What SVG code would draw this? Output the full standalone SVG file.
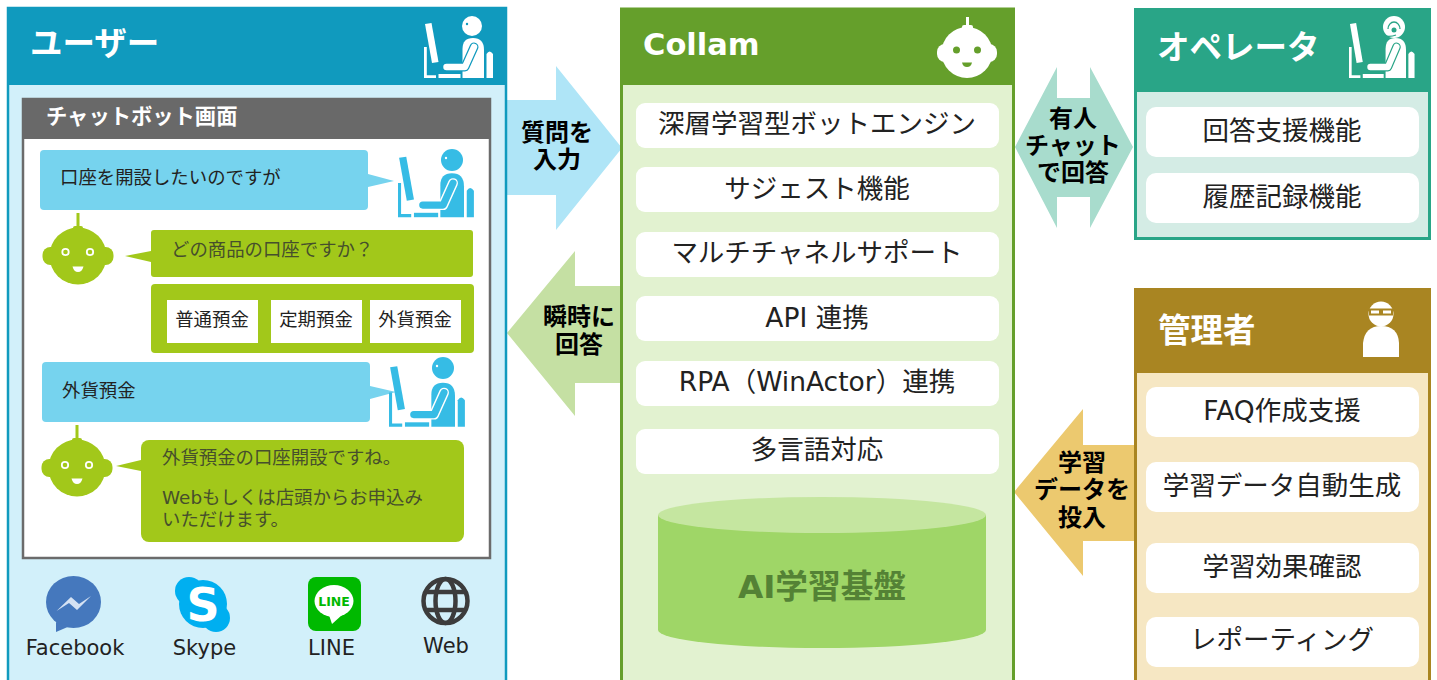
<svg xmlns="http://www.w3.org/2000/svg" width="1437" height="680" viewBox="0 0 1437 680">
<style>
text{font-family:"DejaVu Sans","Noto Sans CJK JP",sans-serif;text-anchor:middle;fill:#111}
.l{text-anchor:start}
.h{font-weight:700;font-size:32.500px;fill:#fff}
.row{font-size:26.500px;fill:#222}
.a{font-weight:700;font-size:24px;fill:#000}
.chat{font-size:18.400px;fill:#222}
.bot{font-size:18.400px;fill:#464f2c}
.ic{font-size:21px;fill:#222}
.w{fill:#fff}
</style>
<defs>
<g id="person">
<path d="M1 8L7.500 7L14.500 46L8 47Z" fill="currentColor"/>
<path d="M0 31H2.800V59.200H12V62H0Z" fill="currentColor"/>
<rect x="14.500" y="58" width="22" height="4" fill="currentColor"/>
<path d="M38.500 62V33Q38.500 22 49 22Q60 22 60 34V62Z" fill="currentColor"/>
<path d="M22.500 51H41L50 31" fill="none" stroke="var(--bg)" stroke-width="9" stroke-linecap="round" stroke-linejoin="round"/>
<path d="M22.500 51H41L50 31" fill="none" stroke="currentColor" stroke-width="6.500" stroke-linecap="round" stroke-linejoin="round"/>
<path d="M62.500 62V38Q65.500 33 69 38V62Z" fill="currentColor"/>
</g>
<g id="robot">
<rect x="-1.500" y="-43" width="3" height="16" fill="currentColor"/>
<rect x="-5" y="-30" width="10" height="5" rx="2" fill="currentColor"/>
<rect x="-35.500" y="-9" width="71" height="18" rx="8" fill="currentColor"/>
<circle r="28.500" fill="currentColor"/>
<path d="M-5.500 10.500H5.500Q4 16 0 16Q-4 16 -5.500 10.500Z" fill="var(--fg)"/>
</g>
</defs>

<g id="connectors">
<path id="arrow-input" d="M507 100H556V66L622 148L556 230V195H507Z" fill="#afe5f7"/>
<path id="arrow-output" d="M620 286H575V251L507 333L575 416V383H620Z" fill="#c5e0a3"/>
<path id="arrow-chat" d="M1015 147L1057 67V98H1090V67L1133 147L1090 228V197H1057V228Z" fill="#a8dccd"/>
<path id="arrow-train" d="M1134 445H1083V409L1014 492L1083 576V541H1134Z" fill="#ecc96f"/>
<text class="a" x="557" y="141">質問を</text>
<text class="a" x="557" y="168">入力</text>
<text class="a" x="579" y="325">瞬時に</text>
<text class="a" x="579" y="353">回答</text>
<text class="a" x="1073" y="127">有人</text>
<text class="a" x="1073" y="154">チャット</text>
<text class="a" x="1073" y="181">で回答</text>
<text class="a" x="1082" y="471">学習</text>
<text class="a" x="1082" y="498">データを</text>
<text class="a" x="1082" y="526">投入</text>
</g>

<g id="user">
<rect x="8" y="8" width="498" height="690" fill="#d2f0fa" stroke="#109abe" stroke-width="2.500"/>
<rect x="7" y="7" width="500" height="78" fill="#109abe"/>
<text class="h l" x="30" y="55">ユーザー</text>
<use href="#person" x="424" y="16" style="color:#fff;--bg:#109abe"/>
<circle cx="472" cy="26" r="10" fill="#fff"/>
<circle cx="467" cy="24" r="1.200" fill="#109abe"/>
</g>

<g id="chat-window">
<rect x="23" y="99" width="467" height="459" fill="#fff" stroke="#6b6b6b" stroke-width="2.500"/>
<rect x="22" y="98" width="469" height="41" fill="#696969"/>
<text class="l" x="46" y="124" font-size="21.300" font-weight="700" style="fill:#fff">チャットボット画面</text>
</g>

<g id="msg-user-1">
<rect x="40" y="150" width="328" height="60" rx="4" fill="#76d3ee"/>
<path d="M368 174L394 181L368 187Z" fill="#76d3ee"/>
<text class="chat l" x="60" y="184">口座を開設したいのですが</text>
<g transform="translate(398,149) scale(1.100)" style="color:#36bce5;--bg:#fff"><use href="#person"/></g>
<circle cx="452" cy="160" r="11" fill="#36bce5"/>
<circle cx="446" cy="158" r="1.200" fill="#fff"/>
</g>

<g id="msg-bot-1" style="color:#a2c81a;--fg:#fff">
<use href="#robot" x="78" y="256"/>
<circle cx="65.500" cy="252" r="3.200" fill="none" stroke="#fff" stroke-width="1.800"/>
<circle cx="90" cy="252" r="3.200" fill="none" stroke="#fff" stroke-width="1.800"/>
<rect x="151" y="230" width="322" height="47" rx="3" fill="#a2c81a"/>
<path d="M125 256L151 251V262Z" fill="#a2c81a"/>
<text class="bot l" x="171" y="256">どの商品の口座ですか？</text>
</g>

<g id="options">
<rect x="151" y="284" width="323" height="69" rx="4" fill="#a2c81a"/>
<rect x="167" y="300" width="91" height="43" fill="#fff"/>
<rect x="271" y="300" width="91" height="43" fill="#fff"/>
<rect x="370" y="300" width="91" height="43" fill="#fff"/>
<text class="chat" x="212" y="326">普通預金</text>
<text class="chat" x="316" y="326">定期預金</text>
<text class="chat" x="415" y="326">外貨預金</text>
</g>

<g id="msg-user-2">
<rect x="42" y="362" width="328" height="60" rx="4" fill="#76d3ee"/>
<path d="M370 386L396 392L370 399Z" fill="#76d3ee"/>
<text class="chat l" x="62" y="397">外貨預金</text>
<g transform="translate(389,358.500) scale(1.100)" style="color:#36bce5;--bg:#fff"><use href="#person"/></g>
<circle cx="443" cy="368" r="11" fill="#36bce5"/>
<circle cx="437" cy="366" r="1.200" fill="#fff"/>
</g>

<g id="msg-bot-2" style="color:#a2c81a;--fg:#fff">
<use href="#robot" x="77" y="468"/>
<circle cx="65" cy="465" r="3.200" fill="none" stroke="#fff" stroke-width="1.800"/>
<circle cx="89" cy="465" r="3.200" fill="none" stroke="#fff" stroke-width="1.800"/>
<rect x="141" y="440" width="323" height="102" rx="8" fill="#a2c81a"/>
<path d="M116 466L141 460V471Z" fill="#a2c81a"/>
<text class="bot l" x="162" y="464">外貨預金の口座開設ですね。</text>
<text class="bot l" x="162" y="504">Webもしくは店頭からお申込み</text>
<text class="bot l" x="162" y="526">いただけます。</text>
</g>

<g id="facebook">
<ellipse cx="73.500" cy="602" rx="27.500" ry="26" fill="#4578bd"/>
<path d="M56 622V632L70 626Z" fill="#4578bd"/>
<path d="M56.500 611L71 597L79 604L91 596L77 610L69 603Z" fill="#d5e2f3"/>
<text class="ic" x="75" y="655">Facebook</text>
</g>
<g id="skype">
<circle cx="203" cy="604" r="24" fill="#00aff0"/>
<circle cx="189" cy="591" r="14" fill="#00aff0"/>
<circle cx="216" cy="618" r="14" fill="#00aff0"/>
<text x="203" y="621" font-size="46" font-weight="700" style="fill:#fff">S</text>
<text class="ic" x="204.500" y="655">Skype</text>
</g>
<g id="line">
<rect x="308" y="577" width="53" height="54" rx="8" fill="#00b900"/>
<ellipse cx="334" cy="601" rx="19.500" ry="16" fill="#fff"/>
<path d="M329 615L332 624L342 615Z" fill="#fff"/>
<text x="334" y="606" font-size="12.500" font-weight="700" style="fill:#00b900">LINE</text>
<text class="ic" x="331.500" y="655">LINE</text>
</g>
<g id="web" fill="none" stroke="#3c3c3c" stroke-width="4.500">
<circle cx="445.500" cy="601" r="22"/>
<ellipse cx="445.500" cy="601" rx="10" ry="22"/>
<path d="M427 592H464M427 610H464"/>
<text class="ic" x="446" y="653" style="stroke:none">Web</text>
</g>

<g id="collam">
<rect x="621.500" y="9" width="392" height="690" fill="#e2f2d0" stroke="#659f2b" stroke-width="3"/>
<rect x="620" y="8" width="395" height="77" fill="#659f2b"/>
<text class="h l" x="643" y="55" style="font-size:30.500px">Collam</text>
<g id="collam-robot">
<rect x="966" y="17" width="3" height="12" fill="#fff"/>
<rect x="962" y="25" width="11" height="5" rx="2" fill="#fff"/>
<rect x="937" y="44" width="60" height="18" rx="8" fill="#fff"/>
<circle cx="967" cy="52.500" r="25.500" fill="#fff"/>
<path d="M962 62.500H972Q971 67 967 67Q963 67 962 62.500Z" fill="#659f2b"/>
<circle cx="956.500" cy="50" r="3.500" fill="#659f2b"/>
<circle cx="977.500" cy="50" r="3.500" fill="#659f2b"/>
</g>
<g class="w">
<rect x="636" y="103" width="363" height="45" rx="9"/>
<rect x="636" y="167" width="363" height="45" rx="9"/>
<rect x="636" y="232" width="363" height="45" rx="9"/>
<rect x="636" y="296" width="363" height="45" rx="9"/>
<rect x="636" y="361" width="363" height="45" rx="9"/>
<rect x="636" y="429" width="363" height="45" rx="9"/>
</g>
<text class="row" x="817" y="133">深層学習型ボットエンジン</text>
<text class="row" x="817" y="198">サジェスト機能</text>
<text class="row" x="817" y="262">マルチチャネルサポート</text>
<text class="row" x="817" y="327">API 連携</text>
<text class="row" x="817" y="391">RPA（WinActor）連携</text>
<text class="row" x="817" y="459">多言語対応</text>
<path d="M658 515V630A164 18 0 0 0 986 630V515Z" fill="#9fd667"/>
<ellipse cx="822" cy="515" rx="164" ry="18" fill="#c5e6a0"/>
<text x="822" y="598" font-size="32.700" font-weight="700" style="fill:#548235">AI学習基盤</text>
</g>

<g id="operator">
<rect x="1135.500" y="9.500" width="294" height="229" fill="#d4ece5" stroke="#29a587" stroke-width="3"/>
<rect x="1134" y="8" width="297" height="84" fill="#29a587"/>
<text class="h l" x="1157" y="59">オペレータ</text>
<g transform="translate(1349,16) scale(.95,1)" style="color:#fff;--bg:#29a587"><use href="#person"/></g>
<circle cx="1394" cy="27" r="11" fill="#fff"/>
<path d="M1388 29A6 7 0 0 1 1400 29M1396 35Q1391 37 1385 36" fill="none" stroke="#29a587" stroke-width="1.300"/>
<circle cx="1394" cy="30" r="2.500" fill="#29a587"/>
<g class="w">
<rect x="1146" y="107" width="273" height="50" rx="10"/>
<rect x="1146" y="173" width="273" height="50" rx="10"/>
</g>
<text class="row" x="1282" y="140">回答支援機能</text>
<text class="row" x="1282" y="206">履歴記録機能</text>
</g>

<g id="admin">
<rect x="1135.500" y="289.500" width="294" height="410" fill="#f6e7c3" stroke="#a98522" stroke-width="3"/>
<rect x="1134" y="288" width="297" height="85" fill="#a98522"/>
<text class="h l" x="1158" y="342">管理者</text>
<circle cx="1381" cy="314" r="12.500" fill="#fff"/>
<path d="M1363 357V343Q1365 326 1381 326Q1398 326 1399 343V357Z" fill="#fff"/>
<rect x="1369" y="308.500" width="24" height="7" fill="#a98522"/>
<rect x="1371" y="310.500" width="8" height="3" fill="#fff"/>
<rect x="1383" y="310.500" width="8" height="3" fill="#fff"/>
<g class="w">
<rect x="1146" y="387" width="273" height="50" rx="10"/>
<rect x="1146" y="462" width="273" height="50" rx="10"/>
<rect x="1146" y="543" width="273" height="50" rx="10"/>
<rect x="1146" y="617" width="273" height="50" rx="10"/>
</g>
<text class="row" x="1282" y="420">FAQ作成支援</text>
<text class="row" x="1282" y="495">学習データ自動生成</text>
<text class="row" x="1282" y="576">学習効果確認</text>
<text class="row" x="1282" y="649">レポーティング</text>
</g>
</svg>
